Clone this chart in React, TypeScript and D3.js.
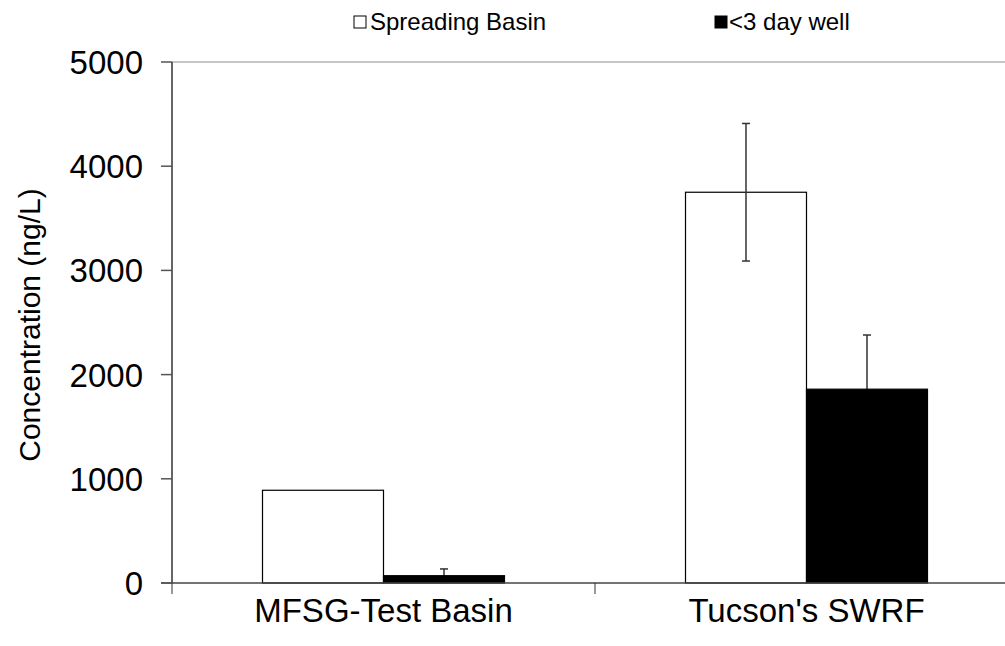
import React from "react";
import * as d3 from "d3";

const categories = ["MFSG-Test Basin", "Tucson's SWRF"];
const seriesNames = ["Spreading Basin", "<3 day well"];
const spreadingBasin = [890, 3750];
const spreadingErr = [0, 660];
const wellValues = [70, 1860];
const wellErr = [65, 520];
const yTicks = [0, 1000, 2000, 3000, 4000, 5000];

export default function App() {
  const W = 1005, H = 646;
  const x0 = 172, x1 = 1018, yTop = 62, yBot = 583;
  const x = d3.scaleBand<string>().domain(categories).range([x0, x1]).padding(0);
  const xs = d3.scaleBand<string>().domain(seriesNames).range([0, x.bandwidth()]).paddingInner(0).paddingOuter(0.748);
  const y = d3.scaleLinear().domain([0, 5000]).range([yBot, yTop]);
  const series = [
    { name: seriesNames[0], vals: spreadingBasin, errs: spreadingErr, fill: "#fff" },
    { name: seriesNames[1], vals: wellValues, errs: wellErr, fill: "#000" },
  ];
  const font = "'Liberation Sans', Arial, sans-serif";

  const errBars = (s: typeof series[0]) =>
    categories.map((c, i) => {
      if (!s.errs[i]) return null;
      const cx = (x(c) as number) + (xs(s.name) as number) + xs.bandwidth() / 2;
      const top = y(s.vals[i] + s.errs[i]);
      const bot = y(Math.max(0, s.vals[i] - s.errs[i]));
      return (
        <g key={"e" + s.name + c} stroke="#333" strokeWidth={1.5}>
          <line x1={cx} x2={cx} y1={top} y2={bot} />
          <line x1={cx - 4} x2={cx + 4} y1={top} y2={top} />
          <line x1={cx - 4} x2={cx + 4} y1={bot} y2={bot} />
        </g>
      );
    });

  return (
    <svg width={W} height={H} style={{ position: "absolute", left: 0, top: 0, background: "#fff" }} fontFamily={font}>
      <line x1={x0} x2={W} y1={y(5000)} y2={y(5000)} stroke="#b3b3b3" strokeWidth={1.5} />
      {errBars(series[1])}
      {series.map((s) =>
        categories.map((c, i) => {
          const bx = (x(c) as number) + (xs(s.name) as number);
          const bw = xs.bandwidth();
          return (
            <rect key={s.name + c} x={bx} y={y(s.vals[i])} width={bw} height={y(0) - y(s.vals[i])}
              fill={s.fill} stroke="#000" strokeWidth={1.2} />
          );
        })
      )}
      {errBars(series[0])}
      <line x1={161} x2={W} y1={yBot} y2={yBot} stroke="#444" strokeWidth={1.5} />
      {[x0, (x(categories[1]) as number), x1].map((t, i) => (
        <line key={"xt" + i} x1={t} x2={t} y1={yBot} y2={yBot + 11} stroke="#333" strokeWidth={1} />
      ))}
      <line x1={x0} x2={x0} y1={yTop} y2={yBot} stroke="#333" strokeWidth={1.5} />
      {yTicks.map((t) => (
        <g key={"yt" + t}>
          <line x1={161} x2={x0} y1={y(t)} y2={y(t)} stroke="#555" strokeWidth={1.5} />
          <text x={143} y={y(t) + 12} textAnchor="end" fontSize={33} fill="#000">{t}</text>
        </g>
      ))}
      {categories.map((c) => (
        <text key={"cl" + c} x={(x(c) as number) + x.bandwidth() / 2} y={622} textAnchor="middle" fontSize={33} fill="#000">{c}</text>
      ))}
      <text transform={`translate(40, 325) rotate(-90)`} textAnchor="middle" fontSize={30} fill="#000">Concentration (ng/L)</text>
      <rect x={354} y={16} width={12} height={12} fill="#fff" stroke="#000" strokeWidth={1} />
      <text x={370} y={30} fontSize={24} fill="#000">{seriesNames[0]}</text>
      <rect x={715} y={16} width={12} height={12} fill="#000" stroke="#000" strokeWidth={1} />
      <text x={729} y={30} fontSize={24} fill="#000">{seriesNames[1]}</text>
    </svg>
  );
}
